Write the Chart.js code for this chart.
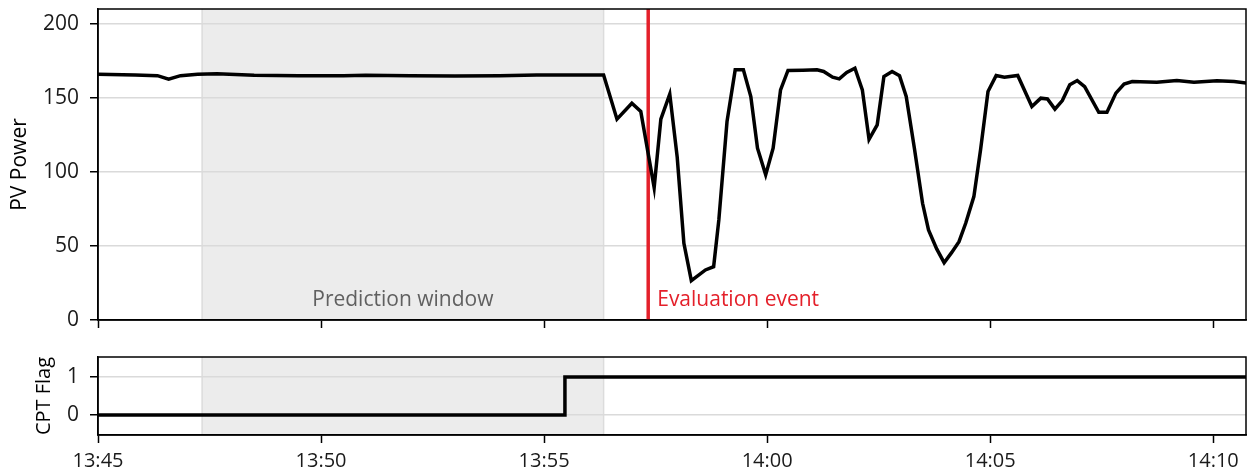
<!DOCTYPE html>
<html>
<head>
<meta charset="utf-8">
<script src="https://cdn.jsdelivr.net/npm/chart.js@4.4.1/dist/chart.umd.min.js"></script>
<style>
  html, body { margin: 0; padding: 0; background: #fff; }
  #wrap { position: relative; width: 1247px; height: 474px; }
  canvas { position: absolute; left: 0; }
  #pvChart { top: 0; }
  #flagChart { top: 345px; }
</style>
</head>
<body>
<div id="wrap">
  <canvas id="pvChart" width="1247" height="345"></canvas>
  <canvas id="flagChart" width="1247" height="129"></canvas>
</div>
<script>
/* ===============================
   DATA
================================ */
const START = "13:45:00";
const END = "14:10:44";
const xTickLabels = ["13:45", "13:50", "13:55", "14:00", "14:05", "14:10"];
const pvTicks = [0, 50, 100, 150, 200];
const flagTicks = [0, 1];

const pvTimes = [
  "13:45:00", "13:45:50", "13:46:20", "13:46:35", "13:46:51", "13:47:14", "13:47:40",
  "13:48:30", "13:49:30", "13:50:30", "13:51:00", "13:52:00", "13:53:00", "13:54:00",
  "13:54:50", "13:55:40", "13:56:20", "13:56:38", "13:56:58", "13:57:10", "13:57:28",
  "13:57:37", "13:57:49", "13:57:59", "13:58:08", "13:58:18", "13:58:37", "13:58:48",
  "13:58:55", "13:59:06", "13:59:17", "13:59:28", "13:59:38", "13:59:47", "13:59:58",
  "14:00:08", "14:00:18", "14:00:28", "14:00:48", "14:01:07", "14:01:16", "14:01:28",
  "14:01:37", "14:01:47", "14:01:58", "14:02:08", "14:02:17", "14:02:28", "14:02:37",
  "14:02:48", "14:02:58", "14:03:07", "14:03:18", "14:03:29", "14:03:37", "14:03:48",
  "14:03:58", "14:04:08", "14:04:18", "14:04:27", "14:04:38", "14:04:47", "14:04:57",
  "14:05:08", "14:05:19", "14:05:37", "14:05:56", "14:06:08", "14:06:17", "14:06:27",
  "14:06:37", "14:06:47", "14:06:57", "14:07:07", "14:07:26", "14:07:37", "14:07:49",
  "14:08:00", "14:08:11", "14:08:44", "14:09:11", "14:09:34", "14:10:05", "14:10:28",
  "14:10:46"
];
const pvValues = [
  166.0, 165.5, 165.0, 162.6, 165.0, 166.0, 166.2,
  165.2, 164.9, 165.0, 165.3, 164.9, 164.8, 165.0,
  165.5, 165.5, 165.5, 135.6, 146.4, 140.8, 89.4,
  135.6, 152.5, 110.0, 51.8, 26.6, 33.8, 36.0,
  67.6, 134.0, 168.9, 168.9, 150.9, 116.0, 98.0,
  116.0, 155.4, 168.5, 168.6, 168.9, 167.8, 164.0,
  162.8, 167.1, 170.0, 155.4, 122.0, 131.8, 164.4,
  167.8, 164.9, 150.9, 116.0, 78.8, 60.8, 48.0,
  38.7, 45.5, 52.9, 65.3, 83.3, 114.9, 154.3,
  165.1, 164.0, 165.1, 144.1, 149.8, 149.3, 142.4,
  148.2, 158.8, 161.7, 157.6, 140.3, 140.3, 153.2,
  159.3, 161.0, 160.6, 161.7, 160.6, 161.5, 161.0,
  159.9
];

const flagTimes = ["13:45:00", "13:55:28", "14:10:44"];
const flagValues = [0, 1, 1];

const windowStart = "13:47:20";
const windowEnd = "13:56:20";
const eventTime = "13:57:20";

/* ===============================
   HELPERS
================================ */
const FONT = "'Open Sans', 'Noto Sans', sans-serif";
Chart.defaults.font.family = FONT;
Chart.defaults.font.size = 20;
Chart.defaults.color = "#1a1a1a";

function toSec(hms) {
  const p = hms.split(":").map(Number);
  const s = START.split(":").map(Number);
  return (p[0] * 3600 + p[1] * 60 + (p[2] || 0)) - (s[0] * 3600 + s[1] * 60 + s[2]);
}

function pairs(times, values) {
  return times.map((t, i) => ({ x: toSec(t), y: values[i] }));
}

// shading, event line, frame and annotations
const overlay = {
  id: "overlay",
  beforeDraw(chart) {
    const { ctx, chartArea: a, scales: { x } } = chart;
    const x0 = x.getPixelForValue(toSec(windowStart));
    const x1 = x.getPixelForValue(toSec(windowEnd));
    ctx.save();
    ctx.fillStyle = "#ececec";
    ctx.fillRect(x0, a.top, x1 - x0, a.bottom - a.top);
    ctx.strokeStyle = "#dcdcdc";
    ctx.lineWidth = 1.5;
    ctx.beginPath();
    ctx.moveTo(x0, a.top); ctx.lineTo(x0, a.bottom);
    ctx.moveTo(x1, a.top); ctx.lineTo(x1, a.bottom);
    ctx.stroke();
    ctx.restore();
  },
  beforeDatasetsDraw(chart, args, opts) {
    if (!opts.event) return;
    const { ctx, chartArea: a, scales: { x } } = chart;
    const xe = x.getPixelForValue(toSec(eventTime));
    ctx.save();
    ctx.strokeStyle = "#e4202a";
    ctx.lineWidth = 3.5;
    ctx.beginPath();
    ctx.moveTo(xe, a.top); ctx.lineTo(xe, a.bottom);
    ctx.stroke();
    ctx.restore();
  },
  afterDraw(chart, args, opts) {
    const { ctx, chartArea: a, scales: { x } } = chart;
    ctx.save();
    if (opts.event) {
      const x0 = x.getPixelForValue(toSec(windowStart));
      const x1 = x.getPixelForValue(toSec(windowEnd));
      const xe = x.getPixelForValue(toSec(eventTime));
      ctx.font = "21px " + FONT;
      ctx.textBaseline = "alphabetic";
      ctx.fillStyle = "#606060";
      ctx.textAlign = "center";
      ctx.fillText("Prediction window", (x0 + x1) / 2, a.bottom - 14);
      ctx.fillStyle = "#e4202a";
      ctx.textAlign = "left";
      ctx.fillText("Evaluation event", xe + 9, a.bottom - 14);
    }
    ctx.strokeStyle = "#000";
    ctx.lineWidth = 1.5;
    ctx.strokeRect(a.left, a.top, a.right - a.left, a.bottom - a.top);
    ctx.restore();
  }
};

function xAxis(showLabels, height) {
  return {
    type: "linear",
    bounds: "data",
    min: 0,
    max: toSec(END),
    afterBuildTicks: (s) => {
      s.ticks = xTickLabels.map((l) => ({ value: toSec(l + ":00") }));
    },
    ticks: {
      display: showLabels,
      autoSkip: false,
      maxRotation: 0,
      padding: 6,
      font: { size: 20 },
      callback: (v) => xTickLabels.find((l) => toSec(l + ":00") === v)
    },
    grid: { drawOnChartArea: false, tickLength: 8, tickColor: "#000", tickWidth: 1.5 },
    border: { color: "#000", width: 1.5 },
    afterFit: (s) => { s.height = height; s.paddingLeft = 0; s.paddingRight = 0; }
  };
}

function yAxis(title, min, max, tickValues, titlePad, titleSize) {
  return {
    bounds: "data",
    min: min,
    max: max,
    afterBuildTicks: (s) => {
      s.ticks = tickValues.map((v) => ({ value: v }));
    },
    ticks: { autoSkip: false, padding: 11, font: { size: 21 } },
    grid: { color: "#dadada", lineWidth: 1.5, tickLength: 8, tickColor: "#000", tickWidth: 1.5 },
    border: { color: "#000", width: 1.5 },
    title: {
      display: true, text: title, color: "#000",
      font: { size: titleSize },
      padding: { top: titlePad, bottom: 0 }
    },
    afterFit: (s) => { s.width = 98; s.paddingTop = 0; s.paddingBottom = 0; }
  };
}

/* ===============================
   PV POWER CHART
================================ */
new Chart(document.getElementById("pvChart"), {
  type: "line",
  data: {
    datasets: [{
      data: pairs(pvTimes, pvValues),
      borderColor: "#000",
      borderWidth: 3.5,
      pointRadius: 0,
      tension: 0
    }]
  },
  options: {
    responsive: false,
    animation: false,
    layout: { padding: { top: 9, right: 1, left: 0, bottom: 0 } },
    plugins: { legend: { display: false }, tooltip: { enabled: false }, overlay: { event: true } },
    scales: {
      x: xAxis(false, 25),
      y: yAxis("PV Power", 0, 210, pvTicks, 7, 21)
    }
  },
  plugins: [overlay]
});

/* ===============================
   CPT FLAG CHART
================================ */
new Chart(document.getElementById("flagChart"), {
  type: "line",
  data: {
    datasets: [{
      data: pairs(flagTimes, flagValues),
      borderColor: "#000",
      borderWidth: 3.5,
      pointRadius: 0,
      stepped: true
    }]
  },
  options: {
    responsive: false,
    animation: false,
    layout: { padding: { top: 12, right: 1, left: 0, bottom: 0 } },
    plugins: { legend: { display: false }, tooltip: { enabled: false }, overlay: { event: false } },
    scales: {
      x: xAxis(true, 39),
      y: yAxis("CPT Flag", -0.52, 1.52, flagTicks, 32, 20)
    }
  },
  plugins: [overlay]
});
</script>
</body>
</html>
